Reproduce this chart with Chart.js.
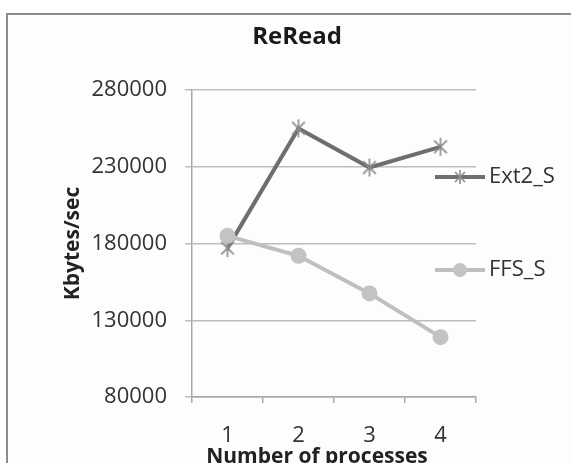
<!DOCTYPE html>
<html>
<head>
<meta charset="utf-8">
<script src="https://cdn.jsdelivr.net/npm/chart.js@4/dist/chart.umd.min.js"></script>
<style>
  html, body { margin: 0; padding: 0; background: #fff; overflow: hidden; }
  canvas { display: block; }
</style>
</head>
<body>
<canvas id="graficoReRead" width="571" height="463"></canvas>
<script>
// dados
const processos = ['1', '2', '3', '4'];
const ext2S = [177000, 255000, 229500, 243000];
const ffsS = [185000, 172000, 147500, 119000];
const ticksY = [80000, 130000, 180000, 230000, 280000];

const FONTE = "'Open Sans', 'DejaVu Sans', sans-serif";

// asterisco estilo Excel (X + linha vertical)
function criarEstrela(r, cor) {
  const c = document.createElement('canvas');
  const s = Math.ceil(r * 2 + 4);
  c.width = s; c.height = s;
  const g = c.getContext('2d');
  const m = s / 2;
  const d = r * Math.SQRT1_2;
  g.strokeStyle = cor;
  g.lineWidth = 1.6;
  g.beginPath();
  g.moveTo(m, m - r); g.lineTo(m, m + r);
  g.moveTo(m - d, m - d); g.lineTo(m + d, m + d);
  g.moveTo(m - d, m + d); g.lineTo(m + d, m - d);
  g.stroke();
  return c;
}

const estrela = criarEstrela(9, '#8a8a8a');
const estrelaLegenda = criarEstrela(7, '#8a8a8a');

const moldura = {
  id: 'moldura',
  beforeDraw(chart) {
    const ctx = chart.ctx;
    ctx.save();
    ctx.fillStyle = '#ffffff';
    ctx.fillRect(0, 0, chart.width, chart.height);
    ctx.fillStyle = '#fdfdfd';
    ctx.fillRect(7, 14, chart.width, chart.height);
    ctx.strokeStyle = '#8c8c8c';
    ctx.lineWidth = 2;
    ctx.strokeRect(7, 14, chart.width + 20, chart.height + 20);
    ctx.restore();
  }
};

const legendaETitulo = {
  id: 'legendaETitulo',
  afterDraw(chart) {
    const ctx = chart.ctx;
    const area = chart.chartArea;
    ctx.save();
    // titulo do eixo x
    ctx.font = 'bold 21px ' + FONTE;
    ctx.fillStyle = '#222';
    ctx.textAlign = 'center';
    ctx.textBaseline = 'middle';
    ctx.fillText('Number of processes', (area.left + area.right) / 2 - 17, area.bottom + 60);

    // legenda
    const itens = [
      { ds: chart.data.datasets[0], y: 177, marca: estrelaLegenda, raio: 7 },
      { ds: chart.data.datasets[1], y: 270, marca: 'circle', raio: 7 }
    ];
    ctx.font = '22px ' + FONTE;
    ctx.textAlign = 'left';
    itens.forEach(it => {
      const x0 = area.right - 41;
      ctx.strokeStyle = it.ds.borderColor;
      ctx.lineWidth = it.ds.borderWidth;
      ctx.beginPath();
      ctx.moveTo(x0, it.y);
      ctx.lineTo(x0 + 50, it.y);
      ctx.stroke();
      ctx.fillStyle = it.ds.pointBackgroundColor;
      ctx.strokeStyle = it.ds.pointBorderColor;
      Chart.helpers.drawPoint(ctx, { pointStyle: it.marca, radius: it.raio, borderWidth: 0, rotation: 0 }, x0 + 25, it.y);
      ctx.fillStyle = '#333';
      ctx.fillText(it.ds.label, x0 + 54, it.y);
    });
    ctx.restore();
  }
};

const ctx = document.getElementById('graficoReRead').getContext('2d');
new Chart(ctx, {
  type: 'line',
  data: {
    labels: processos,
    datasets: [
      {
        label: 'Ext2_S',
        data: ext2S,
        borderColor: '#6e6e6e',
        borderWidth: 4,
        pointStyle: estrela,
        pointRadius: 9,
        pointBackgroundColor: '#8a8a8a',
        pointBorderColor: '#8a8a8a',
        tension: 0,
        order: 1
      },
      {
        label: 'FFS_S',
        data: ffsS,
        borderColor: '#bfbfbf',
        borderWidth: 4,
        pointStyle: 'circle',
        pointRadius: 8,
        pointBorderWidth: 0,
        pointBackgroundColor: '#c3c3c3',
        pointBorderColor: '#c3c3c3',
        tension: 0,
        order: 0
      }
    ]
  },
  options: {
    responsive: false,
    animation: false,
    layout: { padding: { left: 23, right: 0, top: 0, bottom: 0 } },
    plugins: {
      legend: { display: false },
      tooltip: { enabled: false },
      title: {
        display: true,
        text: 'ReRead',
        color: '#1a1a1a',
        font: { family: FONTE, size: 24, weight: 'bold' },
        padding: { top: 22.6, bottom: 38.6 }
      }
    },
    scales: {
      x: {
        offset: true,
        grid: { offset: true, drawOnChartArea: false, drawTicks: true, tickLength: 6, color: '#a8a8a8', lineWidth: 1.5 },
        border: { color: '#a8a8a8', width: 1.5 },
        ticks: { color: '#333', padding: 20, font: { family: FONTE, size: 22 } },
        afterFit: (s) => { s.height = 66; }
      },
      y: {
        min: 80000,
        max: 280000,
        afterBuildTicks: (s) => { s.ticks = ticksY.map(v => ({ value: v })); },
        grid: { color: '#bdbdbd', lineWidth: 1.5, tickLength: 7 },
        border: { color: '#a8a8a8', width: 1.5 },
        ticks: { color: '#333', padding: 18, font: { family: FONTE, size: 22 }, callback: (v) => String(v) },
        title: {
          display: true,
          text: 'Kbytes/sec',
          color: '#222',
          font: { family: FONTE, size: 21, weight: 'bold' },
          padding: { top: 37, bottom: 0 }
        },
        afterFit: (s) => { s.width = 169; }
      },
      espaco: {
        type: 'linear',
        position: 'right',
        display: true,
        grid: { display: false, drawTicks: false },
        border: { display: false },
        ticks: { display: false },
        afterFit: (s) => { s.width = 95; }
      }
    }
  },
  plugins: [moldura, legendaETitulo]
});
</script>
</body>
</html>
